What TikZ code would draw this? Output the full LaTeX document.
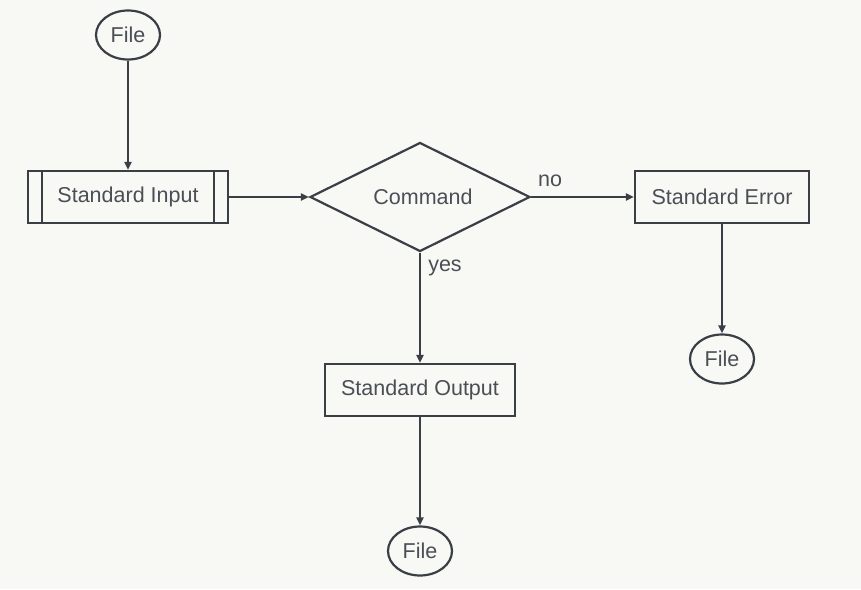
\documentclass[tikz,border=0pt]{standalone}
\usepackage{fontspec}
\setmainfont{Liberation Sans}
\usetikzlibrary{shapes.geometric,arrows.meta}
\definecolor{bg}{HTML}{F8F8F5}
\definecolor{ln}{HTML}{3A3F46}
\definecolor{tx}{HTML}{4A4F56}
\tikzset{
  base/.style={draw=ln, line width=2.2pt, text=tx, font=\fontsize{21.5}{25}\selectfont, inner sep=0pt},
  filenode/.style={base, ellipse, minimum width=64pt, minimum height=49pt},
  procbox/.style={base, rectangle, minimum height=52pt},
  decbox/.style={base, diamond, shape aspect=2, minimum width=220pt, minimum height=109pt},
  conn/.style={draw=ln, line width=2.2pt, -{Triangle[length=8pt,width=7pt]}},
  lbl/.style={text=tx, font=\fontsize{21.5}{25}\selectfont, inner sep=0pt}
}
\begin{document}
\begin{tikzpicture}[x=1pt,y=-1pt]
\fill[bg] (0,0) rectangle (861,589);
\useasboundingbox (0,0) rectangle (861,589);
\node[filenode] (f1) at (128,35) {File};
\node[procbox, minimum width=200pt] (si) at (128,197) {Standard Input};
\draw[draw=ln, line width=2.2pt] ([xshift=15pt]si.north west) -- ([xshift=15pt]si.south west);
\draw[draw=ln, line width=2.2pt] ([xshift=-15pt]si.north east) -- ([xshift=-15pt]si.south east);
\node[decbox] (cmd) at (420,197) {\hspace{6pt}Command};
\node[procbox, minimum width=174pt] (se) at (722,197) {Standard Error};
\node[filenode] (f2) at (722,359) {File};
\node[procbox, minimum width=190pt] (so) at (420,390) {Standard Output};
\node[filenode] (f3) at (420,551) {File};
\draw[conn] (f1) -- (si);
\draw[conn] (si) -- (cmd);
\draw[conn] (cmd.east) -- (se.west);
\draw[conn] (cmd.south) -- (so.north);
\draw[conn] (se) -- (f2);
\draw[conn] (so) -- (f3);
\node[lbl] (nolbl) at (550,181) {no};
\node[lbl] (yeslbl) at (445,268) {yes};
\end{tikzpicture}
\end{document}
